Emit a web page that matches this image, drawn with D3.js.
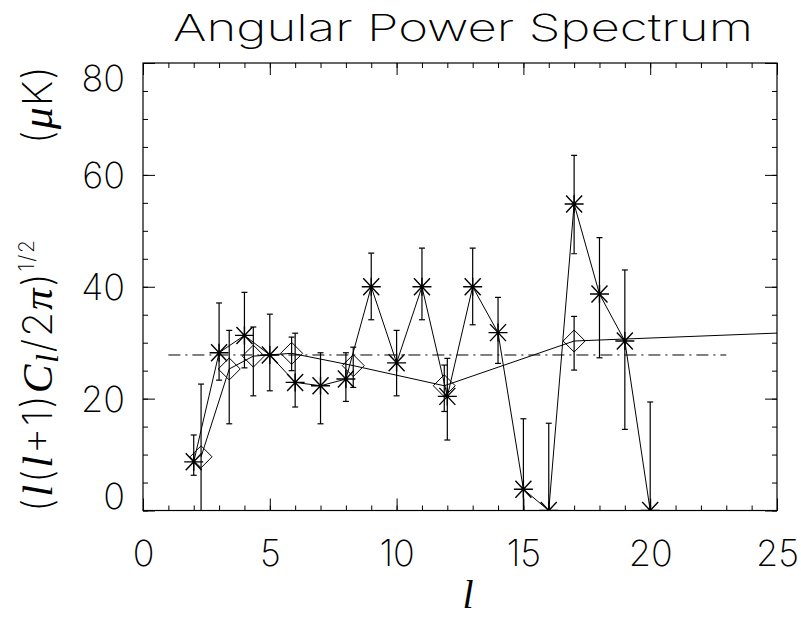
<!DOCTYPE html>
<html>
<head>
<meta charset="utf-8">
<script src="https://cdn.jsdelivr.net/npm/d3@7"></script>
<style>
  body { margin: 0; background: #fff; }
  svg { display: block; }
  .thin { font-family: "Inter", "DejaVu Sans", sans-serif; font-weight: 200; }
  .it { font-family: "Liberation Serif", serif; font-style: italic; font-weight: normal; }
  .axis text { font-family: "Inter", "DejaVu Sans", sans-serif; font-weight: 200; font-size: 36px; fill: #000; }
  .axis line { stroke: #000; stroke-width: 1; }
  .axis path { display: none; }
</style>
</head>
<body>
<svg width="801" height="618"></svg>
<script>
// data
var starL  = [2, 3, 4, 5, 6, 7, 8, 9, 10, 11, 12, 13, 14, 15, 16, 17, 18, 19, 20];
var starV  = [8.7, 28.2, 31.3, 27.8, 22.9, 22.3, 23.5, 40.0, 26.4, 40.0, 20.4, 40.0, 31.8, 3.8, 0, 54.8, 38.7, 30.3, 0];
var starHi = [13.5, 37.1, 39.0, 35.1, 31.7, 28.2, 28.2, 46.0, 32.2, 46.9, 27.2, 46.9, 38.1, 16.4, 15.6, 63.5, 48.8, 43.0, 19.4];
var starLo = [6.3, 23.3, 25.5, 21.4, 18.5, 15.5, 19.5, 34.1, 20.5, 34.1, 12.6, 33.2, 26.3, 0, 0, 45.9, 27.3, 14.5, 0];

var diaL  = [2.29, 3.40, 4.35, 5.86, 8.29, 11.88, 17.0, 30];
var diaV  = [9.6, 25.3, 27.6, 28.1, 25.9, 22.3, 30.3, 32.6];
var diaHi = [22.6, 32.2, 32.8, 31.0, 29.2, 26.0, 34.7];
var diaLo = [-2, 15.5, 20.5, 25.0, 22.0, 17.7, 25.1];

var meanL = [1, 23];
var meanV = 27.8;

var xMajor = [0, 5, 10, 15, 20, 25];
var yMajor = [0, 20, 40, 60, 80];

(function() {
var svg = d3.select("svg");
var pL = 143, pR = 777, pT = 63, pB = 510.5;

var x = d3.scaleLinear().domain([0, 25]).range([pL, pR]);
var y = d3.scaleLinear().domain([0, 80]).range([pB, pT]);

// title
svg.append("text").attr("class", "thin")
  .attr("x", 463).attr("y", 41)
  .attr("text-anchor", "middle")
  .attr("font-size", 37)
  .attr("textLength", 580).attr("lengthAdjust", "spacingAndGlyphs")
  .text("Angular Power Spectrum");

// axes, ticks point inward like IDL
var minorX = d3.range(0, 26), minorY = d3.range(0, 81, 5);

svg.append("g").attr("class", "axis").attr("transform", "translate(0," + pB + ")")
  .call(d3.axisBottom(x).tickValues(minorX).tickSize(-5).tickSizeOuter(0).tickFormat(""));
svg.append("g").attr("class", "axis").attr("transform", "translate(0," + pT + ")")
  .call(d3.axisTop(x).tickValues(minorX).tickSize(-5).tickSizeOuter(0).tickFormat(""));
svg.append("g").attr("class", "axis").attr("transform", "translate(" + pL + ",0)")
  .call(d3.axisLeft(y).tickValues(minorY).tickSize(-5).tickSizeOuter(0).tickFormat(""));
svg.append("g").attr("class", "axis").attr("transform", "translate(" + pR + ",0)")
  .call(d3.axisRight(y).tickValues(minorY).tickSize(-5).tickSizeOuter(0).tickFormat(""));

svg.append("g").attr("class", "axis").attr("transform", "translate(0," + pB + ")")
  .call(d3.axisBottom(x).tickValues(xMajor).tickSize(-12).tickSizeOuter(0).tickPadding(30).tickFormat(d3.format("d")));
svg.append("g").attr("class", "axis").attr("transform", "translate(0," + pT + ")")
  .call(d3.axisTop(x).tickValues(xMajor).tickSize(-12).tickSizeOuter(0).tickFormat(""));
var yAx = svg.append("g").attr("class", "axis").attr("transform", "translate(" + pL + ",0)")
  .call(d3.axisLeft(y).tickValues(yMajor).tickSize(-12).tickSizeOuter(0).tickPadding(18).tickFormat(d3.format("d")));
svg.append("g").attr("class", "axis").attr("transform", "translate(" + pR + ",0)")
  .call(d3.axisRight(y).tickValues(yMajor).tickSize(-12).tickSizeOuter(0).tickFormat(""));

// end labels sit inside the frame
yAx.selectAll(".tick text")
  .attr("dy", function(d) { return d == 0 ? "-0.05em" : d == 80 ? "0.75em" : "0.35em"; });

svg.append("rect")
  .attr("x", pL).attr("y", pT)
  .attr("width", pR - pL).attr("height", pB - pT)
  .attr("fill", "none").attr("stroke", "#000").attr("stroke-width", 1.2);

// axis titles
svg.append("text").attr("class", "it")
  .attr("x", 468).attr("y", 608)
  .attr("text-anchor", "middle")
  .attr("font-size", 40)
  .text("l");

var yt = svg.append("text").attr("class", "thin")
  .attr("transform", "translate(52,512) rotate(-90)")
  .attr("font-size", 41)
  .attr("textLength", 272).attr("lengthAdjust", "spacing");
yt.append("tspan").text("(");
yt.append("tspan").attr("class", "it").attr("font-size", 43).text("l");
yt.append("tspan").text("(");
yt.append("tspan").attr("class", "it").attr("font-size", 43).text("l");
yt.append("tspan").text("+1)");
yt.append("tspan").attr("class", "it").attr("font-size", 43).text("C");
yt.append("tspan").attr("class", "it").attr("font-size", 32).attr("dy", 6).text("l");
yt.append("tspan").attr("dy", -6).text("/2");
yt.append("tspan").attr("class", "it").attr("font-size", 43).text("π");
yt.append("tspan").text(")");
yt.append("tspan").attr("font-size", 21).attr("dy", -18).text("1/2");

svg.append("text").attr("class", "thin")
  .attr("transform", "translate(52,66) rotate(-90)")
  .attr("text-anchor", "end")
  .attr("font-size", 41)
  .attr("textLength", 78).attr("lengthAdjust", "spacing")
  .html('(<tspan class="it" font-size="44">μ</tspan>K)');

// plot area
svg.append("clipPath").attr("id", "clip").append("rect")
  .attr("x", pL).attr("y", pT).attr("width", pR - pL).attr("height", pB - pT);
var plot = svg.append("g").attr("clip-path", "url(#clip)");

var stars = starL.map(function(l, i) { return {l: l, v: starV[i], hi: starHi[i], lo: starLo[i]}; });
var dias = diaL.map(function(l, i) { return {l: l, v: diaV[i], hi: diaHi[i], lo: diaLo[i]}; });

var line = d3.line().x(function(d) { return x(d.l); }).y(function(d) { return y(d.v); });

plot.append("path").datum([{l: meanL[0], v: meanV}, {l: meanL[1], v: meanV}])
  .attr("d", line).attr("fill", "none").attr("stroke", "#000").attr("stroke-width", 1)
  .attr("stroke-dasharray", "12,5,2,5");

plot.append("path").datum(stars).attr("d", line)
  .attr("fill", "none").attr("stroke", "#000").attr("stroke-width", 1);
plot.append("path").datum(dias).attr("d", line)
  .attr("fill", "none").attr("stroke", "#000").attr("stroke-width", 1);

// error bars
function errBars(data) {
  var g = plot.append("g").attr("stroke", "#000").attr("stroke-width", 1.2);
  data.filter(function(d) { return d.hi != null; }).forEach(function(d) {
    var cx = x(d.l);
    g.append("line").attr("x1", cx).attr("x2", cx).attr("y1", y(d.hi)).attr("y2", y(d.lo));
    g.append("line").attr("x1", cx - 3).attr("x2", cx + 3).attr("y1", y(d.hi)).attr("y2", y(d.hi));
    g.append("line").attr("x1", cx - 3).attr("x2", cx + 3).attr("y1", y(d.lo)).attr("y2", y(d.lo));
  });
}
errBars(stars);
errBars(dias);

// asterisks
plot.selectAll("path.star").data(stars).enter().append("path")
  .attr("class", "star")
  .attr("transform", function(d) { return "translate(" + x(d.l) + "," + y(d.v) + ")"; })
  .attr("d", "M-9.5,0H9.5M0,-9V9M-8,-8.5L8,8.5M-8,8.5L8,-8.5")
  .attr("fill", "none").attr("stroke", "#000").attr("stroke-width", 1.4);

// diamonds
plot.selectAll("path.dia").data(dias).enter().append("path")
  .attr("class", "dia")
  .attr("transform", function(d) { return "translate(" + x(d.l) + "," + y(d.v) + ")"; })
  .attr("d", "M0,-11L11,0L0,11L-11,0Z")
  .attr("fill", "none").attr("stroke", "#000").attr("stroke-width", 1);
})();
</script>
</body>
</html>
